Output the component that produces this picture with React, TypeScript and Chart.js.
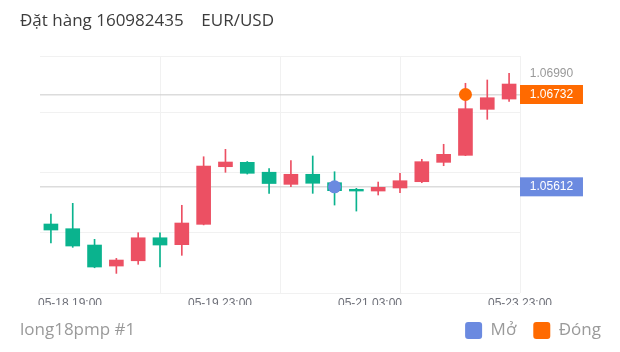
import React, { useEffect, useRef } from 'react';
import { Chart, registerables } from 'chart.js';

Chart.register(...registerables);

// ---- text ----
const TITLE = 'Đặt hàng 160982435    EUR/USD';
const FOOTER = 'long18pmp #1';
const OPEN_LABEL = 'Mở';
const CLOSE_LABEL = 'Đóng';

// ---- candles ----
const CATEGORIES = ['1', '2', '3', '4', '5', '6', '7', '8', '9', '10', '11', '12', '13', '14', '15', '16', '17', '18', '19', '20', '21', '22'];
const OPEN = [1.05161, 1.05104, 1.04906, 1.04651, 1.04715, 1.04994, 1.04910, 1.05157, 1.05856, 1.05909, 1.05789, 1.05642, 1.05764, 1.05662, 1.05582, 1.05561, 1.05598, 1.05674, 1.05909, 1.05994, 1.06552, 1.06677];
const CLOSE = [1.05088, 1.04894, 1.04639, 1.04724, 1.04994, 1.04906, 1.05173, 1.05864, 1.05913, 1.05776, 1.05652, 1.05764, 1.05655, 1.05565, 1.05561, 1.05606, 1.05686, 1.05917, 1.06006, 1.06560, 1.06693, 1.06859];
const HIGH = [1.05282, 1.05412, 1.04975, 1.04744, 1.05055, 1.05055, 1.05388, 1.05977, 1.06067, 1.05919, 1.05834, 1.05929, 1.05986, 1.05795, 1.05594, 1.05670, 1.05776, 1.05946, 1.06128, 1.06868, 1.06908, 1.06990];
const LOW = [1.04930, 1.04878, 1.04630, 1.04562, 1.04672, 1.04639, 1.04781, 1.05150, 1.05788, 1.05767, 1.05533, 1.05613, 1.05533, 1.05391, 1.05318, 1.05513, 1.05540, 1.05662, 1.05868, 1.05990, 1.06431, 1.06647];

// ---- open / close markers ----
const OPEN_INDEX = 13;
const OPEN_PRICE = 1.05612;
const CLOSE_INDEX = 19;
const CLOSE_PRICE = 1.06732;
const MAX_PRICE = 1.0699;

// ---- axes ----
const Y_MIN = 1.04324;
const Y_MAX = 1.07199;
const Y_GRID = [1.04324, 1.05052, 1.0578, 1.06508, 1.07199];
const X_TIMELINE_MAX = 16;
const X_GRID_POS = [0, 4, 8, 12, 16];
const X_TICK_POS = [1, 6, 11, 16];
const X_TICK_LABELS = ['05-18 19:00', '05-19 23:00', '05-21 03:00', '05-23 23:00'];

const UP = '#ec5063';
const DOWN = '#0ab38e';
const OPEN_COLOR = '#6b8ae0';
const CLOSE_COLOR = '#ff6a00';
const GRID = '#f1f1f1';
const PRICE_LINE = 'rgba(205,205,205,0.7)';

export default function App() {
  const ref = useRef<HTMLCanvasElement>(null);

  useEffect(() => {
    if (!ref.current) return;
    const isUp = (i: number) => CLOSE[i] >= OPEN[i];
    const candleColor = (c: any) => (isUp(c.dataIndex) ? UP : DOWN);
    const bodies = CATEGORIES.map((_, i) => [OPEN[i], CLOSE[i]]);
    const wicks = CATEGORIES.map((_, i) => [LOW[i], HIGH[i]]);
    const LEGEND_PAD = 17;

    const footerPlugin = {
      id: 'footerText',
      afterDraw(chart: any) {
        const lg = chart.legend;
        if (!lg) return;
        const ctx = chart.ctx;
        ctx.save();
        ctx.font = "17px 'Open Sans'";
        ctx.fillStyle = '#9a9a9a';
        ctx.textAlign = 'left';
        ctx.textBaseline = 'middle';
        ctx.fillText(FOOTER, 12, lg.top + LEGEND_PAD + 8.5);
        ctx.restore();
      },
    };

    const chart = new Chart(ref.current, {
      type: 'bar',
      data: {
        labels: CATEGORIES,
        datasets: [
          {
            type: 'line',
            label: OPEN_LABEL,
            data: [{ x: CATEGORIES[OPEN_INDEX], y: OPEN_PRICE }],
            showLine: false,
            pointRadius: 6.5,
            pointBackgroundColor: OPEN_COLOR,
            pointBorderWidth: 0,
            backgroundColor: OPEN_COLOR,
            borderColor: OPEN_COLOR,
            borderWidth: 0,
            order: 0,
            xAxisID: 'x',
            yAxisID: 'y',
          },
          {
            type: 'line',
            label: CLOSE_LABEL,
            data: [{ x: CATEGORIES[CLOSE_INDEX], y: CLOSE_PRICE }],
            showLine: false,
            pointRadius: 6.5,
            pointBackgroundColor: CLOSE_COLOR,
            pointBorderWidth: 0,
            backgroundColor: CLOSE_COLOR,
            borderColor: CLOSE_COLOR,
            borderWidth: 0,
            order: 0,
            xAxisID: 'x',
            yAxisID: 'y',
          },
          {
            label: 'body',
            data: bodies,
            backgroundColor: candleColor,
            borderWidth: 0,
            barThickness: 14,
            grouped: false,
            order: 1,
            xAxisID: 'x',
            yAxisID: 'y',
          },
          {
            label: 'wick',
            data: wicks,
            backgroundColor: candleColor,
            borderWidth: 0,
            barThickness: 1,
            grouped: false,
            order: 2,
            xAxisID: 'x',
            yAxisID: 'y',
          },
        ] as any,
      },
      options: {
        responsive: false,
        animation: false,
        events: [],
        devicePixelRatio: 1,
        layout: { padding: { left: 12, right: -6, top: 0, bottom: 0 } },
        plugins: {
          title: {
            display: true,
            text: TITLE,
            align: 'start',
            color: '#3c3c3c',
            font: { family: 'Open Sans', size: 17, weight: 'normal' },
            padding: { top: 3, bottom: 0 },
          },
          legend: {
            display: true,
            position: 'bottom',
            align: 'end',
            maxHeight: 39,
            labels: {
              boxWidth: 17,
              boxHeight: 17,
              padding: LEGEND_PAD,
              color: '#9a9a9a',
              font: { family: 'Open Sans', size: 17 },
              useBorderRadius: true,
              borderRadius: 3,
              filter: (item: any) => item.datasetIndex < 2,
            },
          },
          tooltip: { enabled: false },
        },
        scales: {
          x: { type: 'category', offset: true, display: false },
          xg: {
            type: 'linear',
            position: 'top',
            min: 0,
            max: X_TIMELINE_MAX,
            offset: false,
            afterBuildTicks: (s: any) => {
              s.ticks = X_GRID_POS.map((v) => ({ value: v }));
            },
            ticks: { display: false },
            grid: {
              offset: false,
              color: (c: any) => (c.tick && c.tick.value === 0 ? 'rgba(0,0,0,0)' : GRID),
              drawTicks: false,
            },
            border: { display: false },
            afterFit: (s: any) => {
              s.height = 24.6;
            },
          },
          xl: {
            type: 'linear',
            position: 'bottom',
            min: 0,
            max: X_TIMELINE_MAX,
            offset: false,
            afterBuildTicks: (s: any) => {
              s.ticks = X_TICK_POS.map((v) => ({ value: v }));
            },
            ticks: {
              autoSkip: false,
              maxRotation: 0,
              padding: 3,
              color: '#6e7079',
              font: { family: 'Liberation Sans', size: 12 },
              callback: (_v: any, i: number) => X_TICK_LABELS[i],
            },
            grid: { display: false, drawTicks: false, offset: false },
            border: { display: false },
            afterFit: (s: any) => {
              s.height = 12;
            },
          },
          y: {
            type: 'linear',
            position: 'left',
            min: Y_MIN,
            max: Y_MAX,
            afterBuildTicks: (s: any) => {
              s.ticks = Y_GRID.map((v) => ({ value: v }));
            },
            ticks: { display: false },
            grid: { color: GRID, drawTicks: false },
            border: { display: false },
            afterFit: (s: any) => {
              s.width = 20;
            },
          },
          yr: {
            type: 'linear',
            position: 'right',
            min: Y_MIN,
            max: Y_MAX,
            z: 1,
            afterBuildTicks: (s: any) => {
              s.ticks = [OPEN_PRICE, CLOSE_PRICE, MAX_PRICE].map((v) => ({ value: v }));
            },
            ticks: {
              autoSkip: false,
              padding: 9.8,
              font: { family: 'Liberation Sans', size: 12 },
              color: (c: any) => (c.tick && c.tick.value === MAX_PRICE ? '#999999' : '#ffffff'),
              showLabelBackdrop: (c: any) => !(c.tick && c.tick.value === MAX_PRICE),
              backdropColor: (c: any) =>
                c.tick && c.tick.value === OPEN_PRICE
                  ? OPEN_COLOR
                  : c.tick && c.tick.value === CLOSE_PRICE
                  ? CLOSE_COLOR
                  : 'rgba(0,0,0,0)',
              backdropPadding: { x: 9.8, y: 2.3 },
              callback: (v: any) => Number(v).toFixed(5),
            },
            grid: {
              color: (c: any) => (c.tick && c.tick.value === MAX_PRICE ? 'rgba(0,0,0,0)' : PRICE_LINE),
              drawTicks: false,
              lineWidth: 1.5,
            },
            border: { display: false },
            afterFit: (s: any) => {
              s.width = 98;
            },
          },
        },
      } as any,
      plugins: [footerPlugin],
    });

    return () => chart.destroy();
  }, []);

  return (
    <div style={{ width: 604, height: 336 }}>
      <canvas ref={ref} width={604} height={336} style={{ display: 'block' }} />
    </div>
  );
}
